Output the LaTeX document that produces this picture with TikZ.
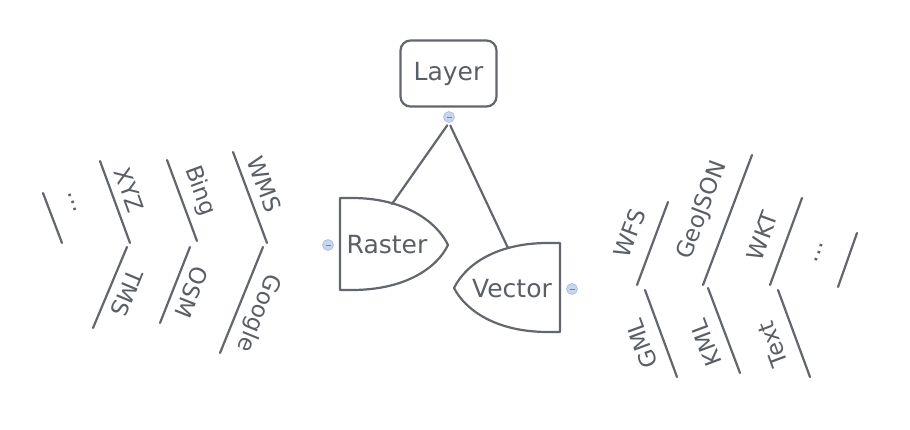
\documentclass[tikz,border=0pt]{standalone}
\usepackage{fontspec}
\setmainfont{DejaVu Sans}
\definecolor{inkgray}{HTML}{62666D}
\definecolor{textgray}{HTML}{5A5E65}
\definecolor{knobblue}{HTML}{C8D5EE}
\definecolor{knobedge}{HTML}{A7BADD}
\begin{document}
\begin{tikzpicture}[x=1pt, y=-1pt,
    bone/.style={draw=inkgray, line width=2.2pt, line cap=round},
    tag/.style={sloped, allow upside down, anchor=south, text=textgray,
        font=\fontsize{23}{23}\selectfont, inner xsep=0pt, inner ysep=8pt},
    rtag/.style={tag, inner ysep=15pt},
    headtext/.style={text=textgray, font=\fontsize{25}{25}\selectfont},
    knob/.style={circle, draw=knobedge, fill=knobblue, line width=0.6pt,
        minimum size=11pt, inner sep=0pt,
        path picture={\draw[knobedge!70!black, line width=0.8pt]
            ([xshift=-2.5pt]path picture bounding box.center) -- ([xshift=2.5pt]path picture bounding box.center);}}]
    \useasboundingbox (0,0) rectangle (910,430);

    % root
    \node (layer) [headtext, draw=inkgray, line width=2.2pt, rounded corners=10pt,
        minimum width=96pt, minimum height=66pt] at (448.5,73.5) {Layer};
    \node (layerknob) [knob] at (449,117) {};

    % fishbone heads
    \draw[bone, line join=round] (340,198) -- (352,198) .. controls (405,198) and (437,222) .. (448,245)
        .. controls (437,268) and (405,290) .. (352,290) -- (340,290) -- cycle;
    \node (raster) [headtext] at (387,245) {Raster};
    \node (rasterknob) [knob] at (328,245) {};
    \coordinate (rastertop) at (392,204);

    \draw[bone, line join=round] (560,243) -- (548,243) .. controls (497,243) and (466,264) .. (454,288)
        .. controls (466,311) and (497,332) .. (548,332) -- (560,332) -- cycle;
    \node (vector) [headtext] at (512,289) {Vector};
    \node (vectorknob) [knob] at (572,289) {};
    \coordinate (vectortop) at (508,248);

    \draw[bone, shorten <=3pt] (layerknob.south) -- (rastertop);
    \draw[bone, shorten <=3pt] (layerknob.south) -- (vectortop);

    % raster bones
    \draw[bone] (43,193) -- node[tag, pos=0.36, inner ysep=22pt] (rastermore) {...} (62,243);
    \draw[bone] (100,161) -- node[tag, pos=0.43] (xyz) {XYZ} (130,243);
    \draw[bone] (167,160) -- node[tag, pos=0.47] (bing) {Bing} (197,241);
    \draw[bone] (233,152) -- node[tag, pos=0.42] (wms) {WMS} (267,243);
    \draw[bone] (127,247) -- node[tag, pos=0.48] (tms) {TMS} (93,328);
    \draw[bone] (190,247) -- node[tag, pos=0.51] (osm) {OSM} (160,323);
    \draw[bone] (263,247) -- node[tag, pos=0.55] (google) {Google} (220,353);

    % vector bones
    \draw[bone] (637,285) -- node[rtag, pos=0.52] (wfs) {WFS} (668,202);
    \draw[bone] (703,285) -- node[rtag, pos=0.5] (geojson) {GeoJSON} (752,155);
    \draw[bone] (770,285) -- node[rtag, pos=0.47] (wkt) {WKT} (802,198);
    \draw[bone] (838,287) -- node[rtag, pos=0.46, inner ysep=27pt] (vectormore) {...} (857,233);
    \draw[bone] (677,377) -- node[rtag, pos=0.47, inner ysep=12pt] (gml) {GML} (645,290);
    \draw[bone] (740,373) -- node[rtag, pos=0.44, inner ysep=12pt] (kml) {KML} (708,288);
    \draw[bone] (810,377) -- node[rtag, pos=0.47, inner ysep=14pt] (plaintext) {Text} (778,290);
\end{tikzpicture}
\end{document}
